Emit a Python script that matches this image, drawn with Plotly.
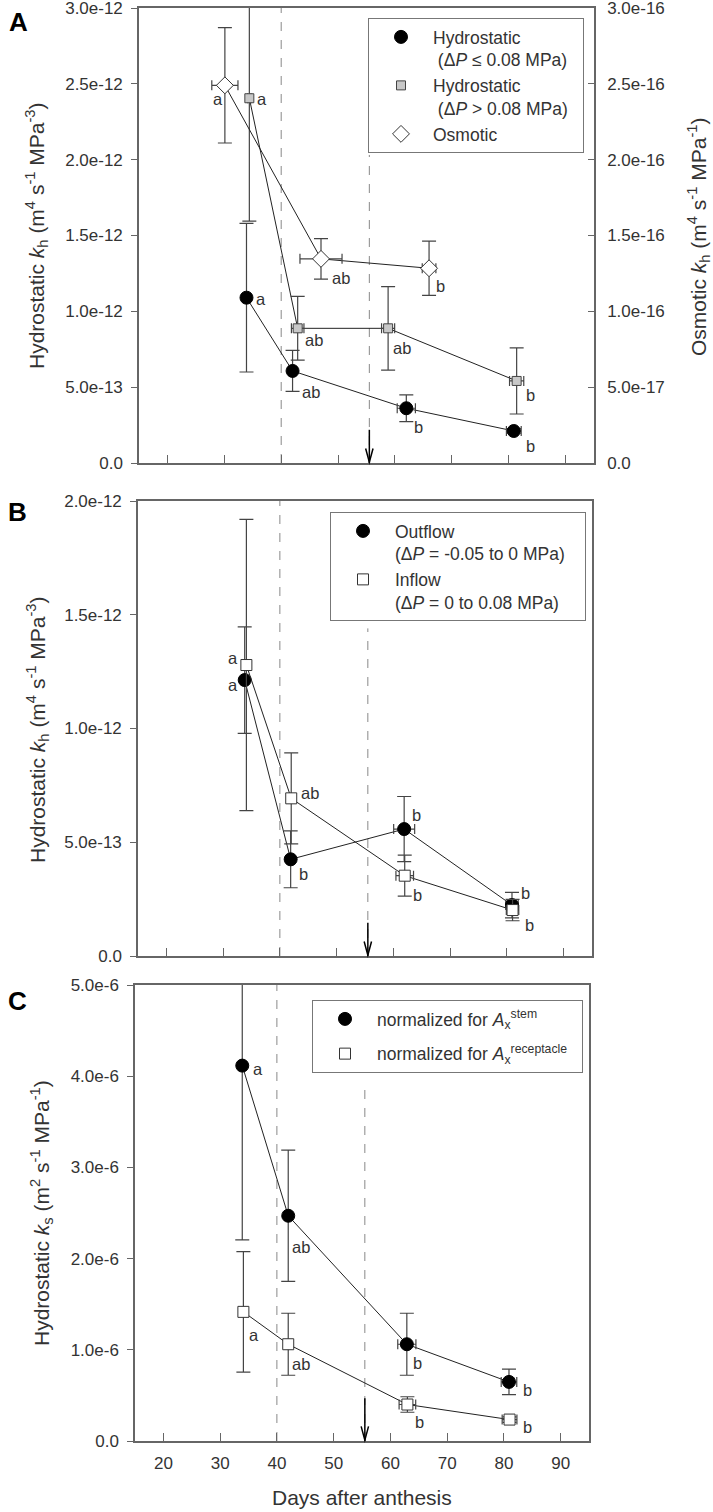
import plotly.graph_objects as go

# ---------------- DATA ----------------
x_ticks = [20, 30, 40, 50, 60, 70, 80, 90]
x_tick_labels = ["20", "30", "40", "50", "60", "70", "80", "90"]

# Panel A
a_left_ticks = ["0.0", "5.0e-13", "1.0e-12", "1.5e-12", "2.0e-12", "2.5e-12", "3.0e-12"]
a_right_ticks = ["0.0", "5.0e-17", "1.0e-16", "1.5e-16", "2.0e-16", "2.5e-16", "3.0e-16"]

a_circ_x = [33.9, 42.0, 62.0, 80.9]
a_circ_y = [1.09e-12, 0.607e-12, 0.361e-12, 0.211e-12]
a_circ_yerr = [0.49e-12, 0.135e-12, 0.088e-12, 0.015e-12]
a_circ_xerr = [0.3, 0.6, 1.6, 1.3]
a_circ_lab = ["a", "ab", "b", "b"]

a_sq_x = [34.4, 42.9, 58.8, 81.4]
a_sq_y = [2.405e-12, 0.888e-12, 0.888e-12, 0.541e-12]
a_sq_yerr = [0.81e-12, 0.21e-12, 0.275e-12, 0.218e-12]
a_sq_xerr = [0.3, 1.1, 1.15, 1.25]
a_sq_lab = ["a", "ab", "ab", "b"]

a_osm_x = [30.1, 47.0, 66.0]
a_osm_y = [2.49e-16, 1.346e-16, 1.284e-16]
a_osm_yerr = [0.38e-16, 0.133e-16, 0.179e-16]
a_osm_xerr = [2.3, 3.7, 1.2]
a_osm_lab = ["a", "ab", "b"]

# Panel B
b_ticks = ["0.0", "5.0e-13", "1.0e-12", "1.5e-12", "2.0e-12"]
b_out_x = [33.8, 41.9, 61.9, 80.9]
b_out_y = [1.213e-12, 0.425e-12, 0.558e-12, 0.224e-12]
b_out_yerr = [0.234e-12, 0.125e-12, 0.143e-12, 0.056e-12]
b_out_xerr = [0.3, 0.6, 1.85, 1.1]
b_out_lab = ["a", "b", "b", "b"]

b_in_x = [34.1, 42.0, 62.0, 81.0]
b_in_y = [1.279e-12, 0.693e-12, 0.353e-12, 0.202e-12]
b_in_yerr = [0.64e-12, 0.2e-12, 0.09e-12, 0.047e-12]
b_in_xerr = [0.3, 0.6, 1.55, 1.1]
b_in_lab = ["a", "ab", "b", "b"]

# Panel C
c_ticks = ["0.0", "1.0e-6", "2.0e-6", "3.0e-6", "4.0e-6", "5.0e-6"]
c_stem_x = [33.9, 42.0, 62.9, 80.9]
c_stem_y = [4.116e-6, 2.47e-6, 1.061e-6, 0.648e-6]
c_stem_yerr = [1.91e-6, 0.72e-6, 0.34e-6, 0.14e-6]
c_stem_xerr = [0.3, 0.6, 1.6, 1.37]
c_stem_lab = ["a", "ab", "b", "b"]

c_rec_x = [34.1, 42.0, 63.0, 81.0]
c_rec_y = [1.416e-6, 1.061e-6, 0.40e-6, 0.235e-6]
c_rec_yerr = [0.66e-6, 0.34e-6, 0.085e-6, 0.03e-6]
c_rec_xerr = [0.3, 0.6, 1.46, 1.3]
c_rec_lab = ["a", "ab", "b", "b"]

vlines = [40, 55.5]

# ---------------- STYLE ----------------
W, H = 713, 1512
FONT = "Liberation Sans, Arial, sans-serif"
TXT = "#333333"
AXC = "#666666"
ERRC = "#444444"
LINEC = "#222222"
NB = "\u00a0"


def px_x(p):
    return p / W


def px_y(p):
    return 1 - p / H


fig = go.Figure()


def add_series(x, y, yerr, xerr, xa, ya, name, legend, symbol, size, fill, lcolor, grp):
    fig.add_trace(go.Scatter(x=x, y=y, mode="lines", xaxis=xa, yaxis=ya,
                             line=dict(color=LINEC, width=1), showlegend=False,
                             hoverinfo="skip"))
    fig.add_trace(go.Scatter(
        x=x, y=y, mode="markers", xaxis=xa, yaxis=ya, name=name, legend=legend,
        legendgroup=grp,
        marker=dict(symbol=symbol, size=size, color=fill,
                    line=dict(color=lcolor, width=1)),
        error_y=dict(type="data", array=yerr, visible=True, color=ERRC,
                     thickness=1.2, width=7),
        error_x=dict(type="data", array=xerr, visible=True, color=ERRC,
                     thickness=1.2, width=5),
    ))


# Panel A
add_series(a_circ_x, a_circ_y, a_circ_yerr, a_circ_xerr, "x", "y",
           "Hydrostatic<br> (Δ<i>P</i> ≤ 0.08 MPa)" + NB * 2, "legend", "circle", 13,
           "black", "black", "a1")
add_series(a_sq_x, a_sq_y, a_sq_yerr, a_sq_xerr, "x", "y",
           "Hydrostatic<br> (Δ<i>P</i> > 0.08 MPa)" + NB * 2, "legend", "square", 9,
           "#c8c8c8", "#444444", "a2")
add_series(a_osm_x, a_osm_y, a_osm_yerr, a_osm_xerr, "x", "y4",
           "Osmotic", "legend", "diamond", 13, "white", "#333333", "a3")

# Panel B
add_series(b_out_x, b_out_y, b_out_yerr, b_out_xerr, "x2", "y2",
           "Outflow<br>(Δ<i>P</i> = -0.05 to 0 MPa)" + NB * 3, "legend2", "circle", 13,
           "black", "black", "b1")
add_series(b_in_x, b_in_y, b_in_yerr, b_in_xerr, "x2", "y2",
           "Inflow<br>(Δ<i>P</i> = 0 to 0.08 MPa)", "legend2", "square", 11,
           "white", "#333333", "b2")

# Panel C
add_series(c_stem_x, c_stem_y, c_stem_yerr, c_stem_xerr, "x3", "y3",
           "normalized for <i>A</i><sub>x</sub><sup>stem</sup>", "legend3",
           "circle", 13, "black", "black", "c1")
add_series(c_rec_x, c_rec_y, c_rec_yerr, c_rec_xerr, "x3", "y3",
           "normalized for <i>A</i><sub>x</sub><sup>receptacle</sup>" + NB * 2, "legend3",
           "square", 11, "white", "#333333", "c2")

# ---------------- AXES ----------------
doms = {
    "A": dict(x=[139 / W, 594 / W], y=[px_y(463), px_y(8)]),
    "B": dict(x=[138 / W, 592 / W], y=[px_y(956), px_y(501)]),
    "C": dict(x=[135 / W, 589 / W], y=[px_y(1441), px_y(985)]),
}
TICKFONT = dict(family=FONT, size=17, color=TXT)


def xaxis(dom, anchor, labels):
    return dict(domain=dom, anchor=anchor, range=[15, 95], tickvals=x_ticks,
                ticktext=x_tick_labels, showticklabels=labels, ticks="inside",
                ticklen=8, tickcolor=AXC, tickwidth=1.2, showline=True,
                linecolor=AXC, linewidth=1.5, mirror=True, showgrid=False,
                zeroline=False, tickfont=TICKFONT, ticklabelstandoff=6,
                ticklabeloverflow="allow", automargin=False)


def yaxis(dom, anchor, labels, mirror=True):
    return dict(domain=dom, anchor=anchor, range=[0, float(labels[-1])],
                tickvals=[float(t) for t in labels], ticktext=labels,
                ticks="outside", ticklen=6, tickcolor=AXC, tickwidth=1.2,
                showline=True, linecolor=AXC, linewidth=1.5, mirror=mirror,
                showgrid=False, zeroline=False, tickfont=TICKFONT,
                ticklabelstandoff=5, ticklabeloverflow="allow", automargin=False)


fig.update_layout(
    xaxis=xaxis(doms["A"]["x"], "y", False),
    yaxis=yaxis(doms["A"]["y"], "x", a_left_ticks),
    yaxis4=dict(overlaying="y", side="right", anchor="x",
                range=[0, float(a_right_ticks[-1])],
                tickvals=[float(t) for t in a_right_ticks], ticktext=a_right_ticks,
                ticks="inside", ticklen=6, tickcolor=AXC, tickwidth=1.2,
                showline=True, linecolor=AXC, linewidth=1.5, showgrid=False,
                zeroline=False, tickfont=TICKFONT, ticklabelstandoff=8,
                ticklabeloverflow="allow", automargin=False),
    xaxis2=xaxis(doms["B"]["x"], "y2", False),
    yaxis2=yaxis(doms["B"]["y"], "x2", b_ticks),
    xaxis3=xaxis(doms["C"]["x"], "y3", True),
    yaxis3=yaxis(doms["C"]["y"], "x3", c_ticks),
)

# ---------------- LEGENDS ----------------
leg_common = dict(xanchor="left", yanchor="top", bordercolor="#777777",
                  borderwidth=1, bgcolor="white",
                  font=dict(family=FONT, size=17.5, color=TXT), itemwidth=54,
                  valign="top", traceorder="grouped")
fig.update_layout(
    legend=dict(x=px_x(368), y=px_y(18), tracegroupgap=0, **leg_common),
    legend2=dict(x=px_x(330), y=px_y(512), tracegroupgap=0, **leg_common),
    legend3=dict(x=px_x(312), y=px_y(1000), tracegroupgap=9, **leg_common),
)

# ---------------- SHAPES ----------------
shapes = []
panels = [("x", "y", 0.677, 0.073), ("x2", "y2", 0.72, 0.073),
          ("x3", "y3", 0.774, 0.094)]
for xa, ya, top2, alen in panels:
    yd = ya + " domain"
    shapes.append(dict(type="line", xref=xa, yref=yd, x0=vlines[0], x1=vlines[0],
                       y0=0, y1=1, line=dict(color="#888888", width=1, dash="dash"),
                       layer="below"))
    shapes.append(dict(type="line", xref=xa, yref=yd, x0=vlines[1], x1=vlines[1],
                       y0=0, y1=top2, line=dict(color="#888888", width=1, dash="dash"),
                       layer="below"))
    shapes.append(dict(type="line", xref=xa, yref=yd, x0=vlines[1], x1=vlines[1],
                       y0=0, y1=alen, line=dict(color="black", width=1.5)))
    shapes.append(dict(type="path", xref=xa, yref=yd,
                       path=f"M {vlines[1]-0.65},0.032 L {vlines[1]},0.002 L {vlines[1]+0.65},0.032",
                       line=dict(color="black", width=1.5)))
fig.update_layout(shapes=shapes)

# ---------------- ANNOTATIONS ----------------
ann = []


def letters(xs, ys, labs, xa, ya, offs):
    for xv, yv, lab, (dx, dy) in zip(xs, ys, labs, offs):
        ann.append(dict(x=xv, y=yv, xref=xa, yref=ya, text=lab, showarrow=False,
                        xanchor="center", yanchor="middle", xshift=dx, yshift=-dy,
                        font=dict(family=FONT, size=16.5, color=TXT)))


letters(a_circ_x, a_circ_y, a_circ_lab, "x", "y", [(15, 1), (18, 21), (12, 19), (17, 15)])
letters(a_sq_x, a_sq_y, a_sq_lab, "x", "y", [(13, 1), (16, 12), (14, 20), (14, 14)])
letters(a_osm_x, a_osm_y, a_osm_lab, "x", "y4", [(-7, 14), (20, 19), (11, 18)])
letters(b_out_x, b_out_y, b_out_lab, "x2", "y2", [(-12, 5), (13, 15), (12, -14), (14, -12)])
letters(b_in_x, b_in_y, b_in_lab, "x2", "y2", [(-13, -7), (19, -5), (13, 19), (17, 15)])
letters(c_stem_x, c_stem_y, c_stem_lab, "x3", "y3", [(16, 3), (13, 31), (11, 19), (19, 8)])
letters(c_rec_x, c_rec_y, c_rec_lab, "x3", "y3", [(11, 23), (13, 20), (12, 17), (18, 7)])

# panel letters
for lab, xp, yp in [("A", 18, 22), ("B", 17, 512), ("C", 17, 1001)]:
    ann.append(dict(x=px_x(xp), y=px_y(yp), xref="paper", yref="paper", text=f"<b>{lab}</b>",
                    showarrow=False, xanchor="center", yanchor="middle",
                    font=dict(family=FONT, size=26, color="black")))

# axis titles
kh_h = "Hydrostatic <i>k</i><sub>h</sub> (m<sup>4</sup> s<sup>-1</sup> MPa<sup>-3</sup>)"
titles = [
    (kh_h, 37, 236, -90),
    ("Osmotic <i>k</i><sub>h</sub> (m<sup>4</sup> s<sup>-1</sup> MPa<sup>-1</sup>)", 698, 237, -90),
    (kh_h, 37, 730, -90),
    ("Hydrostatic <i>k</i><sub>s</sub> (m<sup>2</sup> s<sup>-1</sup> MPa<sup>-1</sup>)", 41, 1213, -90),
    ("Days after anthesis", 362, 1497, 0),
]
for t, xp, yp, ang in titles:
    ann.append(dict(x=px_x(xp), y=px_y(yp), xref="paper", yref="paper", text=t,
                    showarrow=False, xanchor="center", yanchor="middle", textangle=ang,
                    font=dict(family=FONT, size=21, color=TXT)))

fig.update_layout(
    annotations=ann,
    width=W, height=H,
    margin=dict(l=0, r=0, t=0, b=0),
    paper_bgcolor="white", plot_bgcolor="white",
    font=dict(family=FONT, color=TXT),
)

fig.write_html("out.html", config={"displayModeBar": False},
               post_script="document.body.style.margin='0';document.body.style.overflow='hidden';")
